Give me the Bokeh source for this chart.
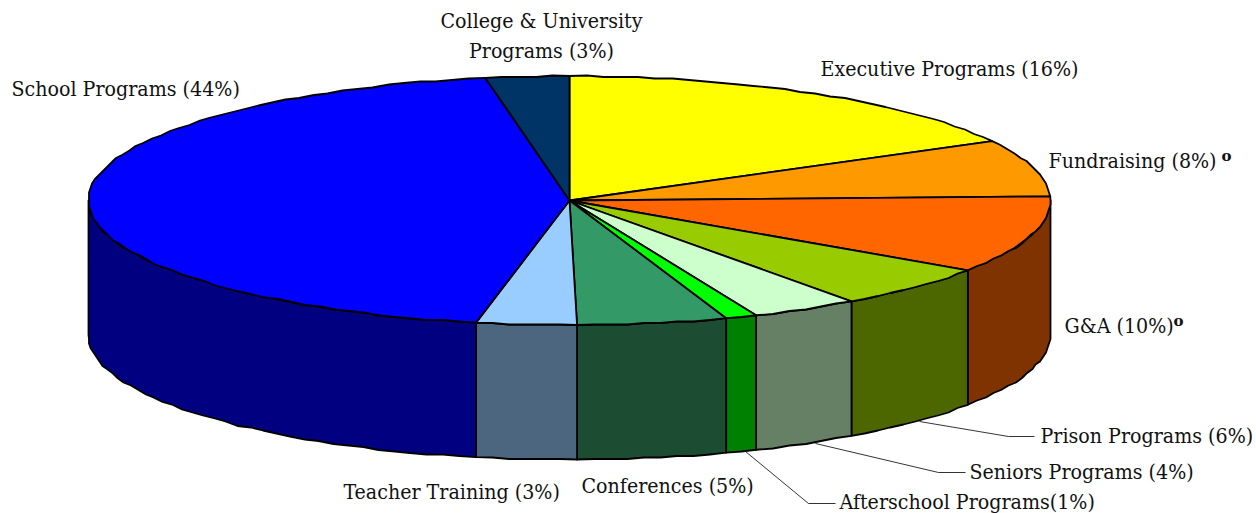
import math
from bokeh.plotting import figure
from bokeh.models import Range1d
from bokeh.core.properties import value
from bokeh.embed import file_html
from bokeh.resources import INLINE

# shares (slice angles), clockwise from 12 o'clock
categories = ["Executive Programs", "Fundraising", "G&A", "Prison Programs", "Seniors Programs",
              "Afterschool Programs", "Conferences", "Teacher Training", "School Programs",
              "College & University Programs"]
shares = [17.08, 7.39, 10.0, 5.56, 3.63, 1.06, 5.03, 3.36, 44.09, 2.8]
top_colors = ["#FFFF00", "#FF9900", "#FF6600", "#99CC00", "#CCFFCC", "#00FF00", "#339966", "#99CCFF", "#0000FF", "#003366"]
side_colors = ["#808000", "#804C00", "#7F3300", "#4C6600", "#668066", "#008000", "#1C4D33", "#4D6680", "#000080", "#001A33"]
labels = ["Executive Programs (16%)", "Fundraising (8%)", "G&A (10%)", "Prison Programs (6%)", "Seniors Programs (4%)",
          "Afterschool Programs(1%)", "Conferences (5%)", "Teacher Training (3%)", "School Programs (44%)"]
label_x = [820, 1048, 1064, 1040, 969, 839, 581, 343, 11]
label_y = [68, 160, 325, 435, 471, 501, 485, 491, 88]

CX, CY, RX, RY, DEPTH = 569.0, 200.0, 481.0, 124.5, 134.5
FONT = "DejaVu Serif Condensed"
FS = "21.2px"

p = figure(width=1256, height=513, x_range=Range1d(0, 1256), y_range=Range1d(513, 0),
           output_backend="svg", toolbar_location=None, min_border=0,
           background_fill_color="white", border_fill_color=None)
p.axis.visible = False
p.grid.visible = False
p.outline_line_color = None


def pt(deg, dy=0.0, snap=True):
    t = math.radians(deg)
    x = CX + RX * math.sin(t)
    y = CY - RY * math.cos(t)
    if snap:
        x = round(x / 1.5) * 1.5
        y = round(y / 1.5) * 1.5
    return x, y + dy


def arc(a, b, dy=0.0):
    n = max(2, int(abs(b - a) / 2.0))
    pts = [pt(a, dy, False)]
    pts += [pt(a + (b - a) * i / n, dy) for i in range(1, n)]
    pts.append(pt(b, dy, False))
    return pts


total = sum(shares)
edges = [0.0]
for s in shares:
    edges.append(edges[-1] + s / total * 360.0)

wx, wy, wc, tx, ty, tc = [], [], [], [], [], []
for i in range(len(shares)):
    a, b = edges[i], edges[i + 1]
    pts = arc(a, b)
    tx.append([CX] + [q[0] for q in pts])
    ty.append([CY] + [q[1] for q in pts])
    tc.append(top_colors[i])
    a2, b2 = max(a, 90.0), min(b, 270.0)
    if a2 < b2:
        up = arc(a2, b2)
        lo = arc(b2, a2, DEPTH)
        wx.append([q[0] for q in up + lo])
        wy.append([q[1] for q in up + lo])
        wc.append(side_colors[i])

p.patches(wx, wy, fill_color=wc, line_color="black", line_width=1.8, line_join="round")
p.patches(tx, ty, fill_color=tc, line_color="black", line_width=1.8, line_join="round")

# leader lines
p.multi_line([[919, 1008, 1034], [815, 938, 965], [745, 808, 835]],
             [[421, 436, 436], [443, 472, 472], [451, 503, 503]],
             line_color="black", line_width=0.8)

p.text(label_x, label_y, text=labels, text_font=value(FONT), text_font_size=FS,
       text_baseline="middle", text_align="left", text_color="#111111")
p.text([541, 541], [20, 50], text=["College & University", "Programs (3%)"], text_font=value(FONT),
       text_font_size=FS, text_baseline="middle", text_align="center", text_color="#111111")
p.text([1226, 1178], [155, 320], text=["o", "o"], text_font=value("DejaVu Serif"), text_font_size="15px",
       text_font_style="bold", text_baseline="middle", text_align="center", text_color="#111111")

open("out.html", "w").write(file_html(p, INLINE))
